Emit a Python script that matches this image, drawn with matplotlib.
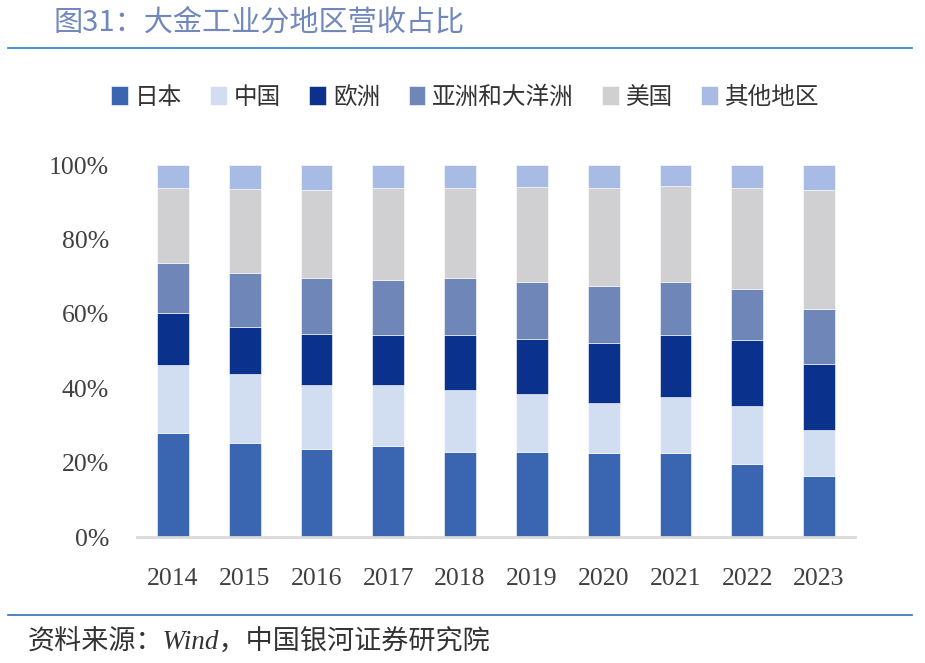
import matplotlib.pyplot as plt
import numpy as np

plt.rcParams['font.family'] = ['Noto Sans CJK SC', 'DejaVu Sans']

years = ['2014', '2015', '2016', '2017', '2018', '2019', '2020', '2021', '2022', '2023']
series = ['日本', '中国', '欧洲', '亚洲和大洋洲', '美国', '其他地区']
japan = [28.0, 25.3, 23.7, 24.5, 22.9, 22.9, 22.7, 22.7, 19.7, 16.5]
china = [18.3, 18.6, 17.2, 16.4, 16.6, 15.6, 13.4, 15.0, 15.6, 12.3]
europe = [14.0, 12.6, 13.8, 13.5, 14.9, 14.8, 16.1, 16.7, 17.7, 17.8]
asia_oceania = [13.4, 14.5, 15.0, 14.8, 15.3, 15.3, 15.4, 14.2, 13.7, 14.8]
usa = [20.2, 22.6, 23.6, 24.7, 24.2, 25.6, 26.3, 25.8, 27.2, 32.0]
other = [6.1, 6.4, 6.7, 6.1, 6.1, 5.8, 6.1, 5.6, 6.1, 6.6]
colors = ['#3a65b0', '#d1ddf0', '#0a318c', '#6f87b8', '#d0cfd1', '#a7bbe4']

data = np.array([japan, china, europe, asia_oceania, usa, other])
data = data / data.sum(axis=0) * 100

fig = plt.figure(figsize=(9.25, 6.63), dpi=100)
ax = fig.add_axes([137/925, 1-537/663, (855-137)/925, (537-165)/663])

x = np.arange(len(years))
bottom = np.zeros(len(years))
for name, vals, c in zip(series, data, colors):
    ax.bar(x, vals, 0.445, bottom=bottom, color=c, label=name,
           edgecolor='white', linewidth=0.4)
    bottom += vals

ax.set_xlim(-0.5, 9.5)
ax.set_ylim(0, 100)
ax.set_yticks([0, 20, 40, 60, 80, 100])
ax.set_yticklabels(['0%', '20%', '40%', '60%', '80%', '100%'])
ax.set_xticks(x)
ax.set_xticklabels(years)
for lab in ax.get_xticklabels() + ax.get_yticklabels():
    lab.set_fontfamily('Liberation Serif')
    lab.set_fontsize(18.5)
    lab.set_color('#404040')
ax.tick_params(axis='y', length=0, pad=20)
ax.tick_params(axis='x', length=0, pad=22)
for s in ['left', 'right', 'top']:
    ax.spines[s].set_visible(False)
ax.spines['bottom'].set_color('#d9d9d9')
ax.spines['bottom'].set_linewidth(2)

fig.legend(loc='center', bbox_to_anchor=(0.503, 1-97/663), ncol=6, frameon=False,
           fontsize=17, handlelength=0.7, handleheight=0.9, handletextpad=0.3,
           columnspacing=1.2, labelcolor='#333333')

fig.text(53/925, 1-22/663, '图31：大金工业分地区营收占比', fontsize=21,
         color='#7088bb', va='center', ha='left')
fig.add_artist(plt.Line2D([8/925, 912/925], [1-48/663, 1-48/663], color='#1f7fd0', linewidth=1.2))
fig.add_artist(plt.Line2D([8/925, 912/925], [1-615/663, 1-615/663], color='#2e6fb4', linewidth=1.2))
fig.text(28/925, 1-643/663, '资料来源：Wind，中国银河证券研究院', fontsize=19.5,
         family=['Liberation Serif', 'Noto Sans CJK SC'],
         color='#333333', va='center', ha='left', style='italic')

fig.savefig('out.png', dpi=100)
